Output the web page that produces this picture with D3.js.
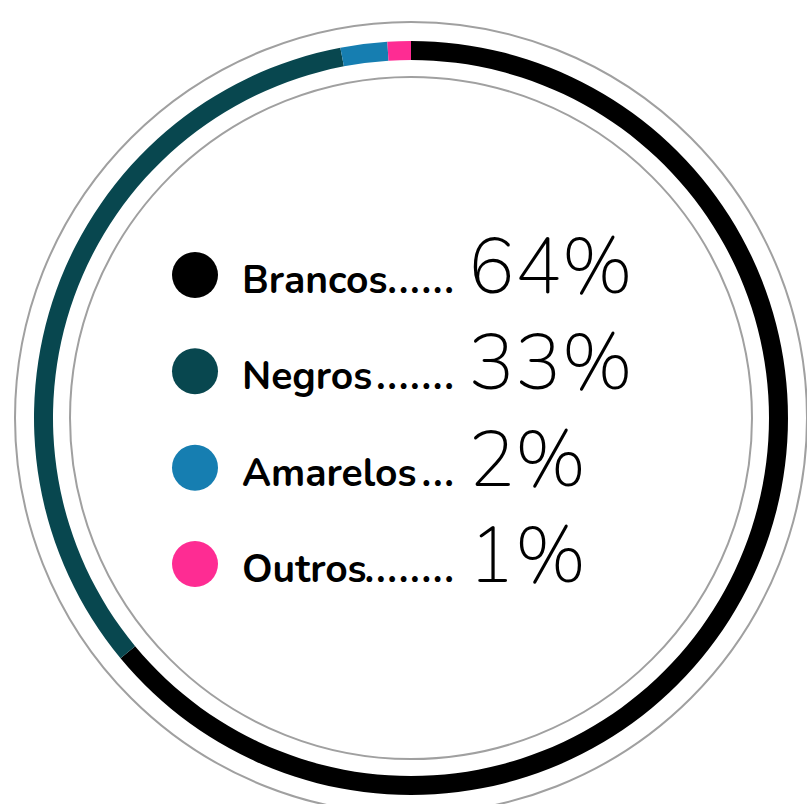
<!DOCTYPE html>
<html>
<head>
<meta charset="utf-8">
<script src="https://cdn.jsdelivr.net/npm/d3@7"></script>
<style>
  body { margin: 0; background: #fff; }
  .label, .leader { font-family: "Nunito", "Lato", sans-serif; font-weight: 700; font-size: 39px; fill: #000; }
  .pct { font-family: "Nunito", "Lato", sans-serif; font-weight: 200; font-size: 78px; fill: #000; }
</style>
</head>
<body>
<svg id="chart"></svg>
<script>
// Data
const categories = ['Brancos', 'Negros', 'Amarelos', 'Outros'];
const shares = [64, 33, 2, 1];
const colors = ['#000000', '#08474f', '#167eb1', '#fe2c93'];

const width = 807, height = 804;
const cx = 411, cy = 418;

const svg = d3.select('#chart')
    .attr('width', width)
    .attr('height', height);

const g = svg.append('g')
    .attr('transform', `translate(${cx},${cy})`);

// Thin gray guide circles
[396, 341].forEach(r => {
  g.append('circle')
    .attr('r', r)
    .attr('fill', 'none')
    .attr('stroke', '#a0a0a0')
    .attr('stroke-width', 2);
});

const colorScale = d3.scaleOrdinal().domain(categories).range(colors);

const pie = d3.pie().sort(null).value(d => d.value);
const arc = d3.arc().innerRadius(358).outerRadius(377);

const data = categories.map((c, i) => ({ key: c, value: shares[i] }));

g.selectAll('.slice')
  .data(pie(data))
  .join('path')
    .attr('class', 'slice')
    .attr('d', arc)
    .attr('fill', d => colorScale(d.data.key));

// Legend rows
const rowY = d3.scalePoint().domain(categories).range([293, 582]);
const labelX = 242, dotEnd = 453, dotStep = 11.4;

const rows = svg.selectAll('.row')
  .data(data)
  .join('g')
    .attr('class', 'row')
    .attr('transform', d => `translate(0,${rowY(d.key)})`);

rows.append('circle')
    .attr('cx', 195)
    .attr('cy', -18)
    .attr('r', 23)
    .attr('fill', d => colorScale(d.key));

rows.append('text')
    .attr('class', 'label')
    .attr('x', labelX)
    .attr('y', 0)
    .text(d => d.key);

// leader dots, evenly spaced and right-aligned
rows.each(function() {
  const row = d3.select(this);
  const labelW = row.select('.label').node().getComputedTextLength();
  const avail = dotEnd - labelX - labelW;
  const n = Math.max(1, Math.floor((avail - 5) / dotStep) + 1);
  const t = row.append('text')
      .attr('class', 'leader')
      .attr('y', 0)
      .text('.');
  const w = t.node().getComputedTextLength();
  t.text('.'.repeat(n))
    .attr('letter-spacing', dotStep - w)
    .attr('x', dotEnd - (n - 1) * dotStep - w + 1);
});

rows.append('text')
    .attr('class', 'pct')
    .attr('x', 468)
    .attr('y', 0)
    .text(d => d.value + '%');
</script>
</body>
</html>
